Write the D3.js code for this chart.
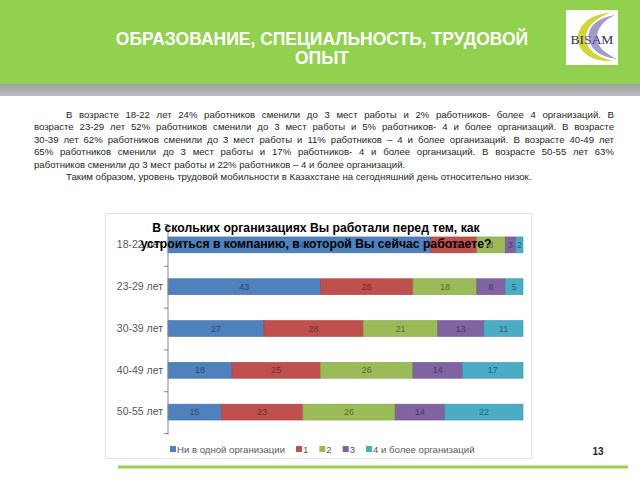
<!DOCTYPE html>
<html>
<head>
<meta charset="utf-8">
<script src="https://cdn.jsdelivr.net/npm/d3@7"></script>
<style>
  body { margin: 0; background: #fff; }
  #page { position: relative; width: 640px; height: 480px; overflow: hidden; }
  #page svg { position: absolute; left: 0; top: 0; }
  #text { position: absolute; left: 34px; top: 109px; width: 580px;
          font-family: "Liberation Sans", Arial, sans-serif; font-size: 9.6px;
          line-height: 12.4px; color: #262626; }
  #text div { text-align: justify; text-align-last: justify; white-space: nowrap; }
  #text div.last { text-align-last: left; }
  #text div.ind { padding-left: 32px; }
</style>
</head>
<body>
<div id="page"></div>
<script>
// chart data
const categories = ["18-22 лет", "23-29 лет", "30-39 лет", "40-49 лет", "50-55 лет"];
const seriesNames = ["Ни в одной организации", "1", "2", "3", "4 и более организаций"];
const noneValues = [74, 43, 27, 18, 15];
const oneValues = [13, 26, 28, 25, 23];
const twoValues = [8, 18, 21, 26, 26];
const threeValues = [3, 8, 13, 14, 14];
const fourValues = [2, 5, 11, 17, 22];
const colors = ["#4f81bd", "#c0504d", "#9bbb59", "#8064a2", "#4bacc6"];

const paragraphLines = [
  "В возрасте 18-22 лет 24% работников сменили до 3 мест работы и 2% работников- более 4 организаций. В",
  "возрасте 23-29 лет 52% работников сменили до 3 мест работы и 5% работников- 4 и более организаций. В возрасте",
  "30-39 лет 62% работников сменили до 3 мест работы и 11% работников – 4 и более организаций. В возрасте 40-49 лет",
  "65% работников сменили до 3 мест работы и 17% работников- 4 и более организаций. В возрасте 50-55 лет 63%",
  "работников сменили до 3 мест работы и 22% работников – 4 и более организаций.",
  "Таким образом, уровень трудовой мобильности в Казахстане на сегодняшний день относительно низок."
];

const width = 640, height = 480;
const page = d3.select("#page");
const svg = page.append("svg").attr("width", width).attr("height", height);

// header
svg.append("rect").attr("x", 0).attr("y", 0).attr("width", width).attr("height", 84).attr("fill", "#92d050");
const grad = svg.append("defs").append("linearGradient").attr("id", "gray").attr("x1", 0).attr("y1", 0).attr("x2", 0).attr("y2", 1);
grad.append("stop").attr("offset", "0%").attr("stop-color", "#9e9e9e");
grad.append("stop").attr("offset", "100%").attr("stop-color", "#bdbdbd");
svg.append("rect").attr("x", 0).attr("y", 84).attr("width", width).attr("height", 12).attr("fill", "url(#gray)");

svg.append("text").attr("text-anchor", "middle").attr("fill", "#fff")
    .style("font-family", "Liberation Sans, Arial, sans-serif").style("font-weight", "bold").style("font-size", "17.5px")
    .selectAll("tspan").data(["ОБРАЗОВАНИЕ, СПЕЦИАЛЬНОСТЬ, ТРУДОВОЙ", "ОПЫТ"]).enter().append("tspan")
    .attr("x", 322).attr("y", (d, i) => 45 + i * 19).text(d => d);

// logo
const logo = svg.append("g").attr("transform", "translate(566,10)");
logo.append("rect").attr("width", 52).attr("height", 55).attr("fill", "#fff");
logo.append("path").attr("d", "M44,3 C22,4 10,18 12,31 C14,44 28,52 47,51 C30,47 20,39 20,28 C20,16 30,8 44,3 Z").attr("fill", "#d4d43a");
logo.append("path").attr("d", "M49,5 C30,8 21,18 23,29 C25,41 36,47 51,49 C39,43 31,37 31,28 C31,18 38,10 49,5 Z").attr("fill", "#a39bcc");
const logoText = logo.append("text").attr("x", 26).attr("y", 34).attr("text-anchor", "middle")
    .style("font-family", "Liberation Serif, serif").style("font-size", "13.5px").attr("fill", "#2b2f6b");
logoText.append("tspan").text("BI");
logoText.append("tspan").attr("fill", "#5b4aa0").text("S");
logoText.append("tspan").text("AM");

// paragraph
const textDiv = page.append("div").attr("id", "text");
textDiv.selectAll("div").data(paragraphLines).enter().append("div")
    .attr("class", (d, i) => (i >= 4 ? "last " : "") + (i === 0 || i === 5 ? "ind" : ""))
    .text(d => d);

// chart frame
svg.append("rect").attr("x", 105.5).attr("y", 213.5).attr("width", 426).attr("height", 245)
    .attr("fill", "#fff").attr("stroke", "#e3e3e3");

const seriesValues = [noneValues, oneValues, twoValues, threeValues, fourValues];
const rows = categories.map((c, i) => {
  const r = { cat: c };
  seriesNames.forEach((s, j) => r[s] = seriesValues[j][i]);
  return r;
});
const stacked = d3.stack().keys(seriesNames)(rows);

const x = d3.scaleLinear().domain([0, 100]).range([168, 523]);
const y = d3.scaleBand().domain(categories).range([224, 433]).paddingInner(0.62).paddingOuter(0.31);

// bars
const layer = svg.append("g").selectAll("g").data(stacked).enter().append("g")
    .attr("fill", (d, i) => colors[i]);
layer.selectAll("rect").data(d => d).enter().append("rect")
    .attr("x", d => x(d[0]))
    .attr("y", d => y(d.data.cat))
    .attr("width", d => x(d[1]) - x(d[0]))
    .attr("height", y.bandwidth())
    .attr("stroke", function() { return d3.color(d3.select(this.parentNode).attr("fill")).darker(0.4); })
    .attr("stroke-width", 0.6);
layer.selectAll("text").data(d => d).enter().append("text")
    .attr("x", d => (x(d[0]) + x(d[1])) / 2)
    .attr("y", d => y(d.data.cat) + y.bandwidth() / 2 + 3)
    .attr("text-anchor", "middle")
    .attr("fill", function() { return d3.color(d3.select(this.parentNode).attr("fill")).darker(1.6); })
    .style("font-family", "Liberation Sans, Arial, sans-serif").style("font-size", "9px")
    .text(d => d[1] - d[0]);

// y axis
const yAxis = svg.append("g").attr("transform", "translate(168,0)")
    .call(d3.axisLeft(y).tickSize(0).tickPadding(5));
yAxis.select(".domain").attr("stroke", "#868686").attr("d", "M0,224V435");
yAxis.selectAll("text").attr("fill", "#595959")
    .style("font-family", "Liberation Sans, Arial, sans-serif").style("font-size", "10.5px");
svg.append("g").selectAll("line").data(d3.range(categories.length + 1)).enter().append("line")
    .attr("x1", 164).attr("x2", 168)
    .attr("y1", i => 224 + i * y.step() + 0.5).attr("y2", i => 224 + i * y.step() + 0.5)
    .attr("stroke", "#868686");

// chart title
svg.append("text").attr("text-anchor", "middle").attr("fill", "#000")
    .style("font-family", "Liberation Sans, Arial, sans-serif").style("font-weight", "bold").style("font-size", "12.2px")
    .selectAll("tspan").data(["В скольких организациях Вы работали перед тем, как", "устроиться в компанию, в которой Вы сейчас работаете?"])
    .enter().append("tspan").attr("x", 316).attr("y", (d, i) => 232 + i * 15.5).text(d => d);

// legend
const legend = svg.append("g").attr("transform", "translate(170,450)");
let lx = 0;
seriesNames.forEach((s, i) => {
  const g = legend.append("g").attr("transform", `translate(${lx},0)`);
  g.append("rect").attr("x", 0).attr("y", -4).attr("width", 6).attr("height", 6).attr("fill", colors[i]);
  const t = g.append("text").attr("x", 7).attr("y", 2.5).attr("fill", "#595959")
      .style("font-family", "Liberation Sans, Arial, sans-serif").style("font-size", "9.6px").text(s);
  lx += 7 + t.node().getComputedTextLength() + 11;
});

// page number and bottom line
svg.append("text").attr("x", 598).attr("y", 455).attr("text-anchor", "middle")
    .style("font-family", "Liberation Sans, Arial, sans-serif").style("font-weight", "bold").style("font-size", "10px")
    .attr("fill", "#222").text("13");
svg.append("line").attr("x1", 118).attr("x2", 628).attr("y1", 467).attr("y2", 467)
    .attr("stroke", "#92d050").attr("stroke-width", 3);
</script>
</body>
</html>
